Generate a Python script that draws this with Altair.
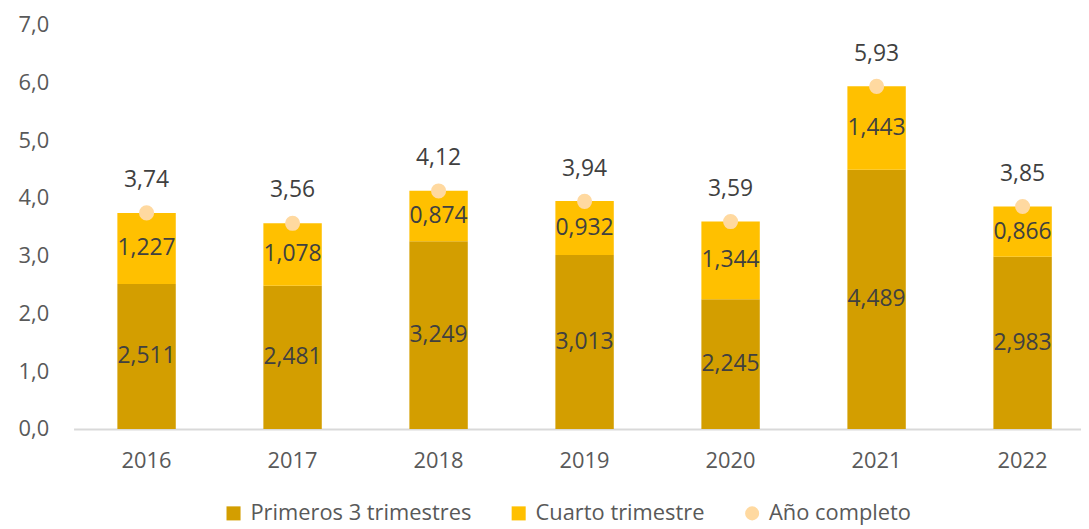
import altair as alt
import pandas as pd

anios = ["2016", "2017", "2018", "2019", "2020", "2021", "2022"]
primeros = [2.511, 2.481, 3.249, 3.013, 2.245, 4.489, 2.983]
cuarto = [1.227, 1.078, 0.874, 0.932, 1.344, 1.443, 0.866]
total = [3.74, 3.56, 4.12, 3.94, 3.59, 5.93, 3.85]
series = ["Primeros 3 trimestres", "Cuarto trimestre", "Año completo"]
colores = ["#D39E00", "#FFC000", "#FFD9A0"]
formas = ["square", "square", "circle"]
y_ticks = [0, 1, 2, 3, 4, 5, 6, 7]

rows = []
for i, a in enumerate(anios):
    rows.append({"anio": a, "serie": series[0], "valor": primeros[i], "orden": 1})
    rows.append({"anio": a, "serie": series[1], "valor": cuarto[i], "orden": 2})
bars_df = pd.DataFrame(rows)
tot_df = pd.DataFrame({"anio": anios, "valor": total, "serie": [series[2]] * len(anios)})

FONT = "Open Sans"
TXT = "#404040"
AX = "#595959"

x_enc = alt.X(
    "anio:N",
    sort=anios,
    scale=alt.Scale(paddingInner=0.6, paddingOuter=0.25, align=0.6),
    axis=alt.Axis(
        title=None, labelAngle=0, ticks=False, domainColor="#D9D9D9", domainWidth=2,
        labelFont=FONT, labelFontSize=22, labelColor=AX, labelPadding=22, grid=False,
    ),
)
y_scale = alt.Scale(domain=[0, 7], nice=False)
y_axis = alt.Axis(
    title=None, values=y_ticks, domain=False, ticks=False, grid=False,
    labelFont=FONT, labelFontSize=22, labelColor=AX, labelPadding=25,
    labelExpr="replace(format(datum.value, '.1f'), '.', ',')",
)

legend = alt.Legend(
    title=None, orient="none", direction="horizontal", legendX=150, legendY=481,
    labelFont=FONT, labelFontSize=22, labelColor=AX, labelLimit=0,
    symbolSize=200, symbolOpacity=1, symbolStrokeWidth=0,
    columnPadding=36, labelOffset=6,
)
color_scale = alt.Scale(domain=series, range=colores)
shape_scale = alt.Scale(domain=series, range=formas)

base_bars = alt.Chart(bars_df)

bars = base_bars.mark_bar().encode(
    x=x_enc,
    y=alt.Y("valor:Q", stack="zero", scale=y_scale, axis=y_axis),
    color=alt.Color("serie:N", scale=color_scale, legend=legend),
    order=alt.Order("orden:Q", sort="ascending"),
)

seg_text = base_bars.transform_stack(
    stack="valor", groupby=["anio"], as_=["y0", "y1"],
    sort=[alt.SortField("orden", order="ascending")],
).transform_calculate(
    mid="(datum.y0 + datum.y1) / 2",
    lab="replace(format(datum.valor, '.3f'), '.', ',')",
).mark_text(font=FONT, fontSize=23, color=TXT).encode(
    x=alt.X("anio:N", sort=anios),
    y=alt.Y("mid:Q"),
    text="lab:N",
)

base_tot = alt.Chart(tot_df)
points = base_tot.mark_point(filled=True, size=230, opacity=1).encode(
    x=alt.X("anio:N", sort=anios),
    y=alt.Y("valor:Q"),
    color=alt.Color("serie:N", scale=color_scale, legend=legend),
    shape=alt.Shape("serie:N", scale=shape_scale, legend=legend),
)
tot_text = base_tot.transform_calculate(
    lab="replace(format(datum.valor, '.2f'), '.', ',')"
).mark_text(font=FONT, fontSize=23, color=TXT, dy=-33).encode(
    x=alt.X("anio:N", sort=anios),
    y=alt.Y("valor:Q"),
    text="lab:N",
)

chart = alt.layer(bars, seg_text, points, tot_text).properties(
    width=1014, height=407,
    padding={"left": 10, "top": 4, "right": 0, "bottom": 0},
).configure(background="white").configure_view(stroke=None)

chart.save("out.html", embed_options={"renderer": "svg", "actions": False})
